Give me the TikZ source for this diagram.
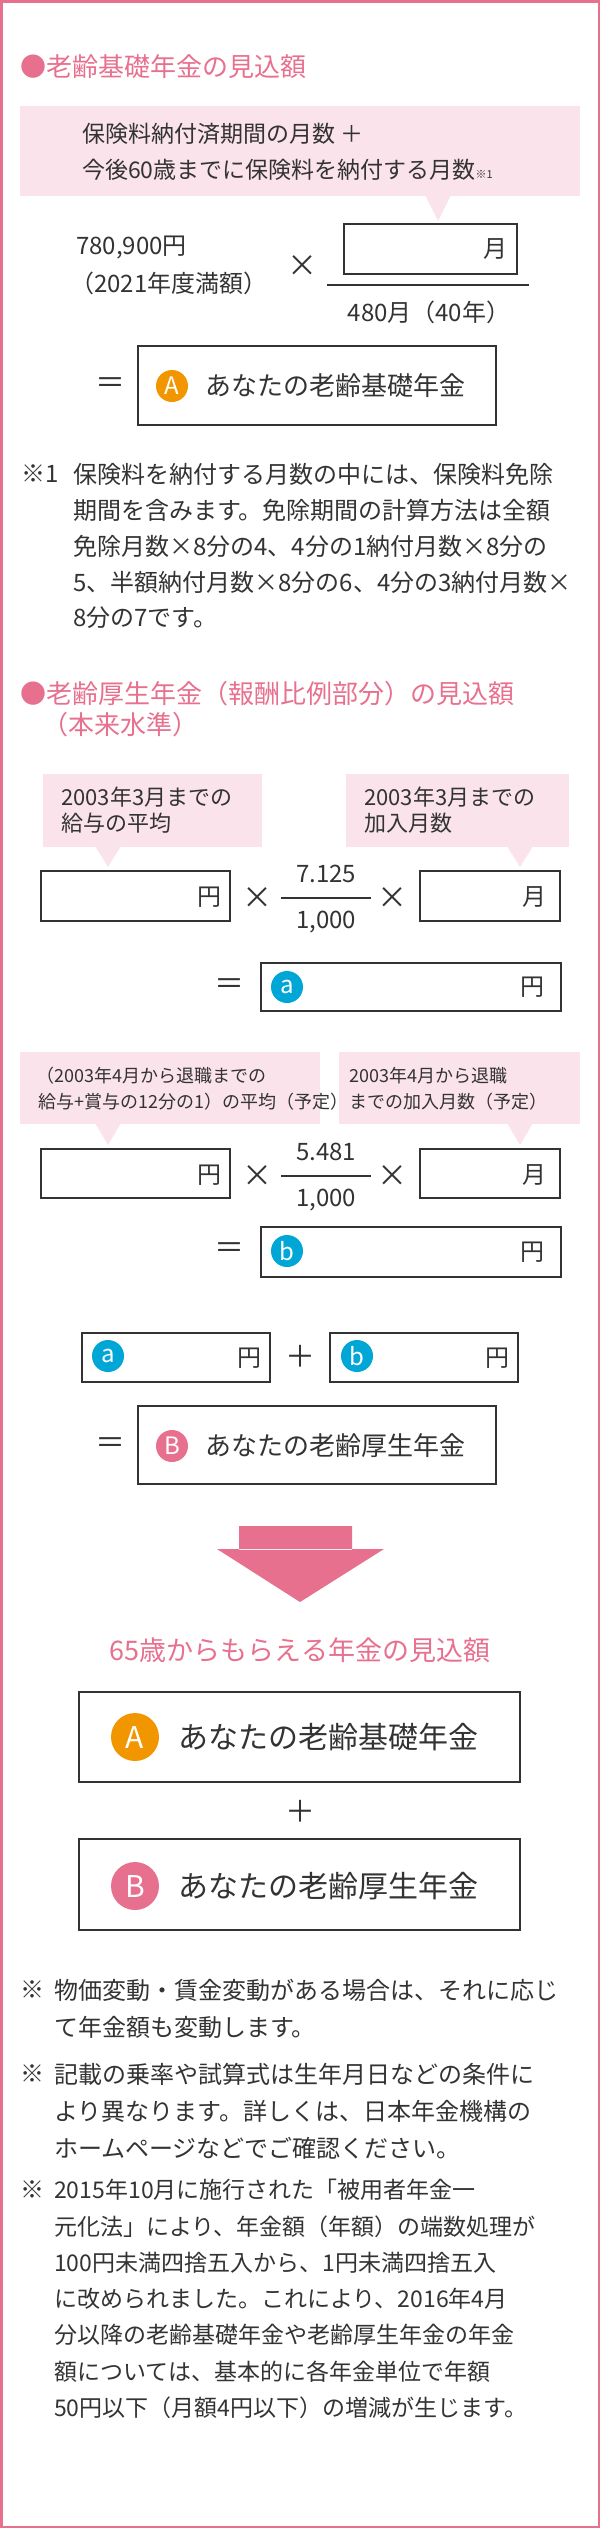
\documentclass[tikz,border=0pt]{standalone}
\usepackage{fontspec}
\setmainfont{Noto Sans CJK JP}
\definecolor{framepink}{HTML}{E8708F}
\definecolor{lightpink}{HTML}{FBE3EC}
\definecolor{ink}{HTML}{333333}
\definecolor{markorange}{HTML}{F29600}
\definecolor{markcyan}{HTML}{00A6D6}
\newcommand{\fs}[1]{\fontsize{#1}{#1}\selectfont}
\begin{document}
\begin{tikzpicture}[
  x=1pt, y=-1pt,
  every node/.style={text=ink, inner sep=0pt},
  title/.style={text=framepink, anchor=west, font=\fs{26}},
  callout/.style={fill=lightpink, draw=none},
  blank/.style={draw=ink, line width=1.4pt},
  line/.style={anchor=west, font=\fs{24}},
  small/.style={anchor=west, font=\fs{18}},
  unit/.style={anchor=east, font=\fs{24}},
  op/.style={font=\fs{30}},
  mark/.style={circle, minimum size=#1, text=white, font=\fs{24}},
  ]
  \useasboundingbox (0,0) rectangle (600,2528);
  \draw[framepink, line width=2.5pt] (1.25,1.25) rectangle (598.75,2526.75);

  % basic pension
  \node[title] (t1) at (20,67) {●老齢基礎年金の見込額};
  \fill[callout] (20,106) rectangle (580,196);
  \fill[callout] (425,195) -- (438,221) -- (451,195) -- cycle;
  \node[line, font=\fs{23}] (c1a) at (82,134) {保険料納付済期間の月数 ＋};
  \node[line, font=\fs{23}] (c1b) at (82,170) {今後60歳までに保険料を納付する月数{\fs{11}※1}};
  \node[line] (amt) at (76,248) {780,900円};
  \node[line] (amtnote) at (70,283) {（2021年度満額）};
  \node[op] (x1) at (302,266) {×};
  \draw[blank] (344,224) rectangle (517,274);
  \node[unit] (m1) at (508,249) {月};
  \draw[ink, line width=1.4pt] (327,285) -- (529,285);
  \node[font=\fs{24}] (den) at (429,312) {480月（40年）};
  \node[op] (eq1) at (110,386) {＝};
  \draw[blank] (138,346) rectangle (496,425);
  \node[mark=32pt, fill=markorange] (markA) at (172,386) {A};
  \node[line, font=\fs{26}] (resA) at (205,386) {あなたの老齢基礎年金};

  \node[line] (n1) at (21,474) {※1};
  \foreach \t [count=\i from 0] in {保険料を納付する月数の中には、保険料免除,
    期間を含みます。免除期間の計算方法は全額,
    免除月数×8分の4、4分の1納付月数×8分の,
    5、半額納付月数×8分の6、4分の3納付月数×,
    8分の7です。}
    \node[line] (n1l\i) at (73,474+36*\i) {\t};

  % employees' pension
  \node[title] (t2) at (20,694) {●老齢厚生年金（報酬比例部分）の見込額};
  \node[title] (t2b) at (42,725) {（本来水準）};
  \fill[callout] (43,774) rectangle (262,847);
  \fill[callout] (95,846) -- (108,867) -- (121,846) -- cycle;
  \node[line, font=\fs{22}] (c2a) at (61,797) {2003年3月までの};
  \node[line, font=\fs{22}] (c2b) at (61,823) {給与の平均};
  \fill[callout] (346,774) rectangle (569,847);
  \fill[callout] (507,846) -- (520,867) -- (533,846) -- cycle;
  \node[line, font=\fs{22}] (c3a) at (364,797) {2003年3月までの};
  \node[line, font=\fs{22}] (c3b) at (364,823) {加入月数};
  \draw[blank] (41,871) rectangle (230,921);
  \node[unit] (y1) at (222,897) {円};
  \node[op] (x2) at (257,898) {×};
  \node[font=\fs{24}] (num1) at (326,874) {7.125};
  \draw[ink, line width=1.4pt] (281,898) -- (371,898);
  \node[font=\fs{24}] (den1) at (326,922) {1,000};
  \node[op] (x3) at (392,898) {×};
  \draw[blank] (420,871) rectangle (560,921);
  \node[unit] (m2) at (547,897) {月};
  \node[op] (eq2) at (229,987) {＝};
  \draw[blank] (261,963) rectangle (561,1011);
  \node[mark=32pt, fill=markcyan] (marka) at (287,987) {a};
  \node[unit] (y2) at (545,987) {円};

  \fill[callout] (20,1052) rectangle (320,1124);
  \fill[callout] (95,1123) -- (108,1145) -- (121,1123) -- cycle;
  \node[small] (c4a) at (36,1076) {（2003年4月から退職までの};
  \node[small] (c4b) at (38,1102) {給与+賞与の12分の1）の平均（予定）};
  \fill[callout] (339,1052) rectangle (580,1124);
  \fill[callout] (507,1123) -- (520,1145) -- (533,1123) -- cycle;
  \node[small] (c5a) at (349,1076) {2003年4月から退職};
  \node[small] (c5b) at (349,1102) {までの加入月数（予定）};
  \draw[blank] (41,1149) rectangle (230,1198);
  \node[unit] (y3) at (222,1175) {円};
  \node[op] (x4) at (257,1176) {×};
  \node[font=\fs{24}] (num2) at (326,1152) {5.481};
  \draw[ink, line width=1.4pt] (281,1176) -- (371,1176);
  \node[font=\fs{24}] (den2) at (326,1200) {1,000};
  \node[op] (x5) at (392,1176) {×};
  \draw[blank] (420,1149) rectangle (560,1198);
  \node[unit] (m3) at (547,1175) {月};
  \node[op] (eq3) at (229,1251) {＝};
  \draw[blank] (261,1227) rectangle (561,1277);
  \node[mark=32pt, fill=markcyan] (markb) at (287,1251) {b};
  \node[unit] (y4) at (545,1252) {円};

  \draw[blank] (82,1333) rectangle (270,1382);
  \node[mark=32pt, fill=markcyan] (marka2) at (108,1356) {a};
  \node[unit] (y5) at (262,1358) {円};
  \node[op] (plus1) at (300,1356) {＋};
  \draw[blank] (330,1333) rectangle (518,1382);
  \node[mark=32pt, fill=markcyan] (markb2) at (357,1356) {b};
  \node[unit] (y6) at (510,1358) {円};
  \node[op] (eq4) at (110,1446) {＝};
  \draw[blank] (138,1406) rectangle (496,1484);
  \node[mark=32pt, fill=framepink] (markB) at (172,1446) {B};
  \node[line, font=\fs{26}] (resB) at (205,1446) {あなたの老齢厚生年金};

  % total
  \fill[framepink] (239,1526) rectangle (352,1550)
    (217,1549) -- (384,1549) -- (300,1602) -- cycle;
  \node[text=framepink, font=\fs{27}] (t3) at (300,1650) {65歳からもらえる年金の見込額};
  \draw[blank] (79,1692) rectangle (520,1782);
  \node[mark=48pt, fill=markorange, font=\fs{30}] (markA2) at (135,1737) {A};
  \node[line, font=\fs{30}] (totA) at (178,1737) {あなたの老齢基礎年金};
  \node[op] (plus2) at (300,1811) {＋};
  \draw[blank] (79,1839) rectangle (520,1930);
  \node[mark=48pt, fill=framepink, font=\fs{30}] (markB2) at (135,1886) {B};
  \node[line, font=\fs{30}] (totB) at (178,1886) {あなたの老齢厚生年金};

  % notes
  \node[line] (n2) at (20,1990) {※};
  \node[line] (n2a) at (54,1990) {物価変動・賃金変動がある場合は、それに応じ};
  \node[line] (n2b) at (54,2027) {て年金額も変動します。};
  \node[line] (n3) at (20,2074) {※};
  \node[line] (n3a) at (54,2074) {記載の乗率や試算式は生年月日などの条件に};
  \node[line] (n3b) at (54,2111) {より異なります。詳しくは、日本年金機構の};
  \node[line] (n3c) at (54,2148) {ホームページなどでご確認ください。};
  \node[line] (n4) at (20,2190) {※};
  \foreach \t [count=\i from 0] in {2015年10月に施行された「被用者年金一,
    元化法」により、年金額（年額）の端数処理が,
    100円未満四捨五入から、1円未満四捨五入,
    に改められました。これにより、2016年4月,
    分以降の老齢基礎年金や老齢厚生年金の年金,
    額については、基本的に各年金単位で年額,
    50円以下（月額4円以下）の増減が生じます。}
    \node[line, font=\fs{23}] (n4l\i) at (54,2190+36.3*\i) {\t};
\end{tikzpicture}
\end{document}
